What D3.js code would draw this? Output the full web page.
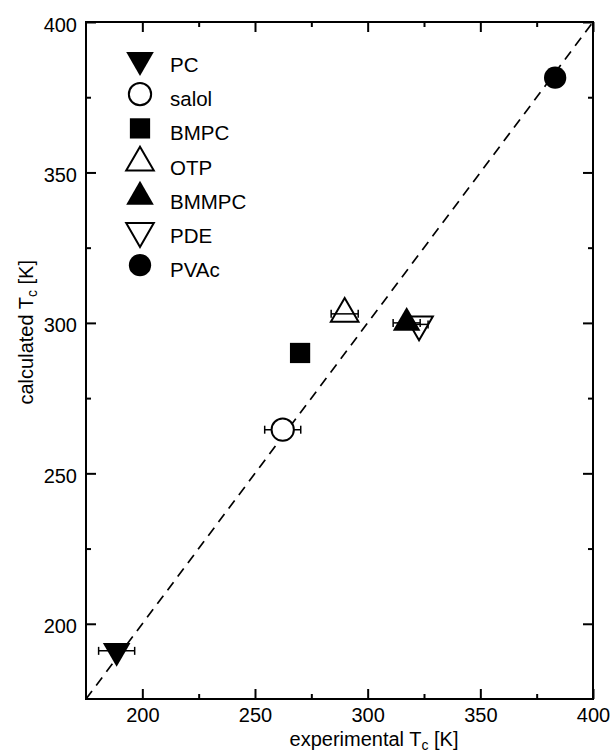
<!DOCTYPE html>
<html>
<head>
<meta charset="utf-8">
<script src="https://cdn.jsdelivr.net/npm/d3@7"></script>
<style>
  body { margin: 0; background: #fff; }
  text { font-family: "Liberation Sans", Arial, sans-serif; fill: #000; }
</style>
</head>
<body>
<svg id="chart" width="613" height="754"></svg>
<script>
// data
const names = ["PC", "salol", "BMPC", "OTP", "BMMPC", "PDE", "PVAc"]
const expTc = [188.6, 262.3, 270.0, 289.8, 317.3, 322.8, 383.2]
const calcTc = [191.0, 264.5, 290.0, 303.0, 300.0, 299.5, 381.5]
const expErr = [8, 8, 0, 6, 6, 4, 0]
const markerKind = ["downFilled", "circleOpen", "square", "upOpen", "upFilled", "downOpen", "circleFilled"]
const majorTicks = [200, 250, 300, 350, 400]
const minorTicks = [225, 275, 325, 375]
const domainTc = [175, 400]

const svg = d3.select('#chart')
const plotL = 86, plotR = 593, plotT = 22, plotB = 699

let x = d3.scaleLinear().domain(domainTc).range([plotL, plotR])
let y = d3.scaleLinear().domain(domainTc).range([plotB, plotT])

// marker shapes
function markerPath(kind) {
    if (kind.startsWith('circle')) return d3.symbol(d3.symbolCircle, 390)()
    if (kind == 'square') return d3.symbol(d3.symbolSquare, 410)()
    return d3.symbol(d3.symbolTriangle, 330)()
}
function markerRotate(kind) {
    return kind.startsWith('down') ? ' rotate(180)' : ''
}
function markerFill(kind) {
    if (kind == 'circleOpen') return '#fff'
    if (kind.endsWith('Open')) return 'none'
    return '#000'
}

// axes with inward ticks on all four sides
function addAxis(axisFn, scale, size, pos, labels) {
    let major = axisFn(scale).tickValues(majorTicks).tickSize(size)
        .tickFormat(labels ? d3.format('d') : '')
    let minor = axisFn(scale).tickValues(minorTicks).tickSize(size / 2).tickFormat('')
    let g1 = svg.append('g').attr('transform', pos).call(major)
    let g2 = svg.append('g').attr('transform', pos).call(minor)
    ;[g1, g2].forEach(g => {
        g.select('.domain').remove()
        g.selectAll('line').attr('stroke', '#000').attr('stroke-width', 2)
    })
    g1.selectAll('text').style('font-size', '20px')
    return g1
}
let xb = addAxis(d3.axisBottom, x, -10, `translate(0,${plotB})`, true)
xb.selectAll('text').attr('dy', null).attr('y', 23)
addAxis(d3.axisTop, x, -10, `translate(0,${plotT})`, false)
let yl = addAxis(d3.axisLeft, y, -10, `translate(${plotL},0)`, true)
yl.selectAll('text').attr('dy', null).attr('y', 9).attr('x', -9)
addAxis(d3.axisRight, y, -10, `translate(${plotR},0)`, false)

svg.append('rect')
    .attr('x', plotL).attr('y', plotT)
    .attr('width', plotR - plotL).attr('height', plotB - plotT)
    .attr('fill', 'none').attr('stroke', '#000').attr('stroke-width', 2)

// y = x line
svg.append('line')
    .attr('x1', x(domainTc[0])).attr('y1', y(domainTc[0]))
    .attr('x2', x(domainTc[1])).attr('y2', y(domainTc[1]))
    .attr('stroke', '#000').attr('stroke-width', 1.7)
    .attr('stroke-dasharray', '10,7')

// error bars
let idx = d3.range(names.length).filter(i => expErr[i] > 0)
let eb = svg.append('g').attr('stroke', '#000').attr('stroke-width', 1.5)
idx.forEach(i => {
    let x0 = x(expTc[i] - expErr[i]), x1 = x(expTc[i] + expErr[i]), yy = y(calcTc[i])
    eb.append('line').attr('x1', x0).attr('x2', x1).attr('y1', yy).attr('y2', yy)
    eb.append('line').attr('x1', x0).attr('x2', x0).attr('y1', yy - 4).attr('y2', yy + 4)
    eb.append('line').attr('x1', x1).attr('x2', x1).attr('y1', yy - 4).attr('y2', yy + 4)
})

// points
svg.append('g').selectAll('path')
    .data(d3.range(names.length))
    .join('path')
    .attr('d', i => markerPath(markerKind[i]))
    .attr('transform', i => `translate(${x(expTc[i])},${y(calcTc[i])})` + markerRotate(markerKind[i]))
    .attr('fill', i => markerFill(markerKind[i]))
    .attr('stroke', '#000')
    .attr('stroke-width', i => markerFill(markerKind[i]) == '#000' ? 0 : 2)

// legend
let legend = svg.append('g')
names.forEach((n, i) => {
    let cy = 60 + i * 34.2
    legend.append('path')
        .attr('d', markerPath(markerKind[i]))
        .attr('transform', `translate(140,${cy})` + markerRotate(markerKind[i]))
        .attr('fill', markerFill(markerKind[i]))
        .attr('stroke', '#000')
        .attr('stroke-width', markerFill(markerKind[i]) == '#000' ? 0 : 2)
    legend.append('text')
        .attr('x', 170).attr('y', cy + 12)
        .style('font-size', '20.5px')
        .text(n)
})

// axis titles
let xt = svg.append('text').attr('x', 374).attr('y', 746)
    .attr('text-anchor', 'middle').style('font-size', '20px')
xt.append('tspan').text('experimental T')
xt.append('tspan').attr('dy', 4).style('font-size', '14px').text('c')
xt.append('tspan').attr('dy', -4).text(' [K]')

let yt = svg.append('text')
    .attr('transform', 'translate(33,260) rotate(-90)')
    .attr('text-anchor', 'end')
    .style('font-size', '20px')
yt.append('tspan').text('calculated T')
yt.append('tspan').attr('dy', 4).style('font-size', '14px').text('c')
yt.append('tspan').attr('dy', -4).text(' [K]')
</script>
</body>
</html>
